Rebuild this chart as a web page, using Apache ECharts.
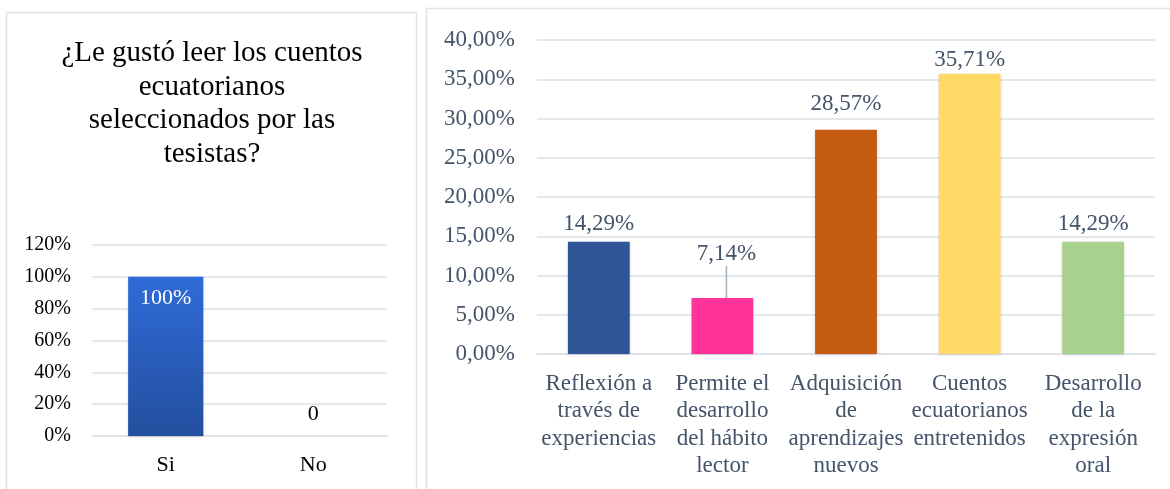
<!DOCTYPE html>
<html>
<head>
<meta charset="utf-8">
<script src="https://cdn.jsdelivr.net/npm/echarts@6/dist/echarts.min.js"></script>
<style>
  html, body { margin: 0; padding: 0; background: #ffffff; }
  #chart { width: 1170px; height: 489px; }
</style>
</head>
<body>
<div id="chart"></div>
<script>
// Left chart: single question, yes / no
const likeTitle = '¿Le gustó leer los cuentos\necuatorianos\nseleccionados por las\ntesistas?';
const likeCategories = ['Si', 'No'];
const likeValues = [100, 0];
const likeTicks = [0, 20, 40, 60, 80, 100, 120];

// Right chart: reasons
const reasonCategories = [
  'Reflexión a\ntravés de\nexperiencias',
  'Permite el\ndesarrollo\ndel hábito\nlector',
  'Adquisición\nde\naprendizajes\nnuevos',
  'Cuentos\necuatorianos\nentretenidos',
  'Desarrollo\nde la\nexpresión\noral'
];
const reasonValues = [14.29, 7.14, 28.57, 35.71, 14.29];
const reasonTicks = [0, 5, 10, 15, 20, 25, 30, 35, 40];

const reasonColors = ['#2f5597', '#ff3399', '#c55a11', '#ffd966', '#a9d18e'];
const reasonLabelGap = [6, 6, 14, 2, 6];

const SERIF = '"Liberation Serif", "DejaVu Serif", serif';
const SLATE = '#44546a';
const GRID_LINE = '#dde1e7';

const fmtComma = v => v.toFixed(2).replace('.', ',') + '%';

const chart = echarts.init(document.getElementById('chart'), null, { renderer: 'canvas' });

const option = {
  backgroundColor: '#ffffff',
  animation: false,
  graphic: [
    { type: 'rect', shape: { x: 6.5, y: 12.5, width: 410, height: 500 },
      style: { fill: 'none', stroke: '#dfe3e8', lineWidth: 1.5 }, z: -1 },
    { type: 'rect', shape: { x: 426.5, y: 8.5, width: 760, height: 500 },
      style: { fill: 'none', stroke: '#dfe3e8', lineWidth: 1.5 }, z: -1 }
  ],
  title: {
    text: likeTitle,
    left: 207, top: 32, textAlign: 'center',
    textStyle: { fontFamily: SERIF, fontSize: 29, fontWeight: 'normal', color: '#000', lineHeight: 33.5 }
  },
  grid: [
    { left: 92, right: 783, top: 245, bottom: 53 },
    { left: 537, right: 15, top: 40, bottom: 135 }
  ],
  xAxis: [
    {
      type: 'category', gridIndex: 0, data: likeCategories,
      axisLine: { show: true, lineStyle: { color: GRID_LINE, width: 1.5 } },
      axisTick: { show: false },
      axisLabel: { fontFamily: SERIF, fontSize: 22, color: '#000', margin: 18 }
    },
    {
      type: 'category', gridIndex: 1, data: reasonCategories,
      axisLine: { show: true, lineStyle: { color: GRID_LINE, width: 1.5 } },
      axisTick: { show: false },
      axisLabel: { interval: 0, fontFamily: SERIF, fontSize: 23, color: SLATE, lineHeight: 27.5, margin: 16 }
    }
  ],
  yAxis: [
    {
      type: 'value', gridIndex: 0,
      min: likeTicks[0], max: likeTicks[likeTicks.length - 1], interval: likeTicks[1] - likeTicks[0],
      axisLine: { show: false }, axisTick: { show: false },
      splitLine: { lineStyle: { color: GRID_LINE, width: 1.5 } },
      axisLabel: { fontFamily: SERIF, fontSize: 20, color: '#000', margin: 21, formatter: v => v + '%' }
    },
    {
      type: 'value', gridIndex: 1,
      min: reasonTicks[0], max: reasonTicks[reasonTicks.length - 1], interval: reasonTicks[1] - reasonTicks[0],
      axisLine: { show: false }, axisTick: { show: false },
      splitLine: { lineStyle: { color: GRID_LINE, width: 1.5 } },
      axisLabel: { fontFamily: SERIF, fontSize: 23, color: SLATE, margin: 22, formatter: fmtComma }
    }
  ],
  series: [
    {
      type: 'bar', xAxisIndex: 0, yAxisIndex: 0, barWidth: '51%',
      data: likeValues.map(v => ({
        value: v,
        label: v > 0
          ? { show: true, position: 'insideTop', distance: 10, color: '#ffffff', formatter: '{c}%' }
          : { show: true, position: 'top', distance: 11, color: '#000', formatter: '{c}' }
      })),
      label: { fontFamily: SERIF, fontSize: 22 },
      itemStyle: {
        color: new echarts.graphic.LinearGradient(0, 0, 0, 1, [
          { offset: 0, color: '#2f6bd8' },
          { offset: 1, color: '#234f9e' }
        ]),
        shadowColor: 'rgba(0,0,0,0.18)', shadowBlur: 3, shadowOffsetY: 1
      }
    },
    {
      type: 'bar', xAxisIndex: 1, yAxisIndex: 1, barWidth: '50%',
      data: reasonValues.map((v, i) => ({
        value: v,
        itemStyle: { color: reasonColors[i] },
        label: { distance: reasonLabelGap[i] },
        // only the lifted label keeps a leader line back to its bar
        labelLine: { show: i === 1 }
      })),
      itemStyle: { shadowColor: 'rgba(0,0,0,0.18)', shadowBlur: 3, shadowOffsetY: 1 },
      label: {
        show: true, position: 'top', fontFamily: SERIF, fontSize: 23, color: SLATE,
        formatter: p => fmtComma(p.value)
      },
      labelLayout: p => (p.dataIndex === 1 ? { dy: -26, dx: 4 } : {}),
      labelLine: { show: false, lineStyle: { color: '#a5b0be', width: 1.5 } }
    }
  ]
};

chart.setOption(option);
</script>
</body>
</html>
